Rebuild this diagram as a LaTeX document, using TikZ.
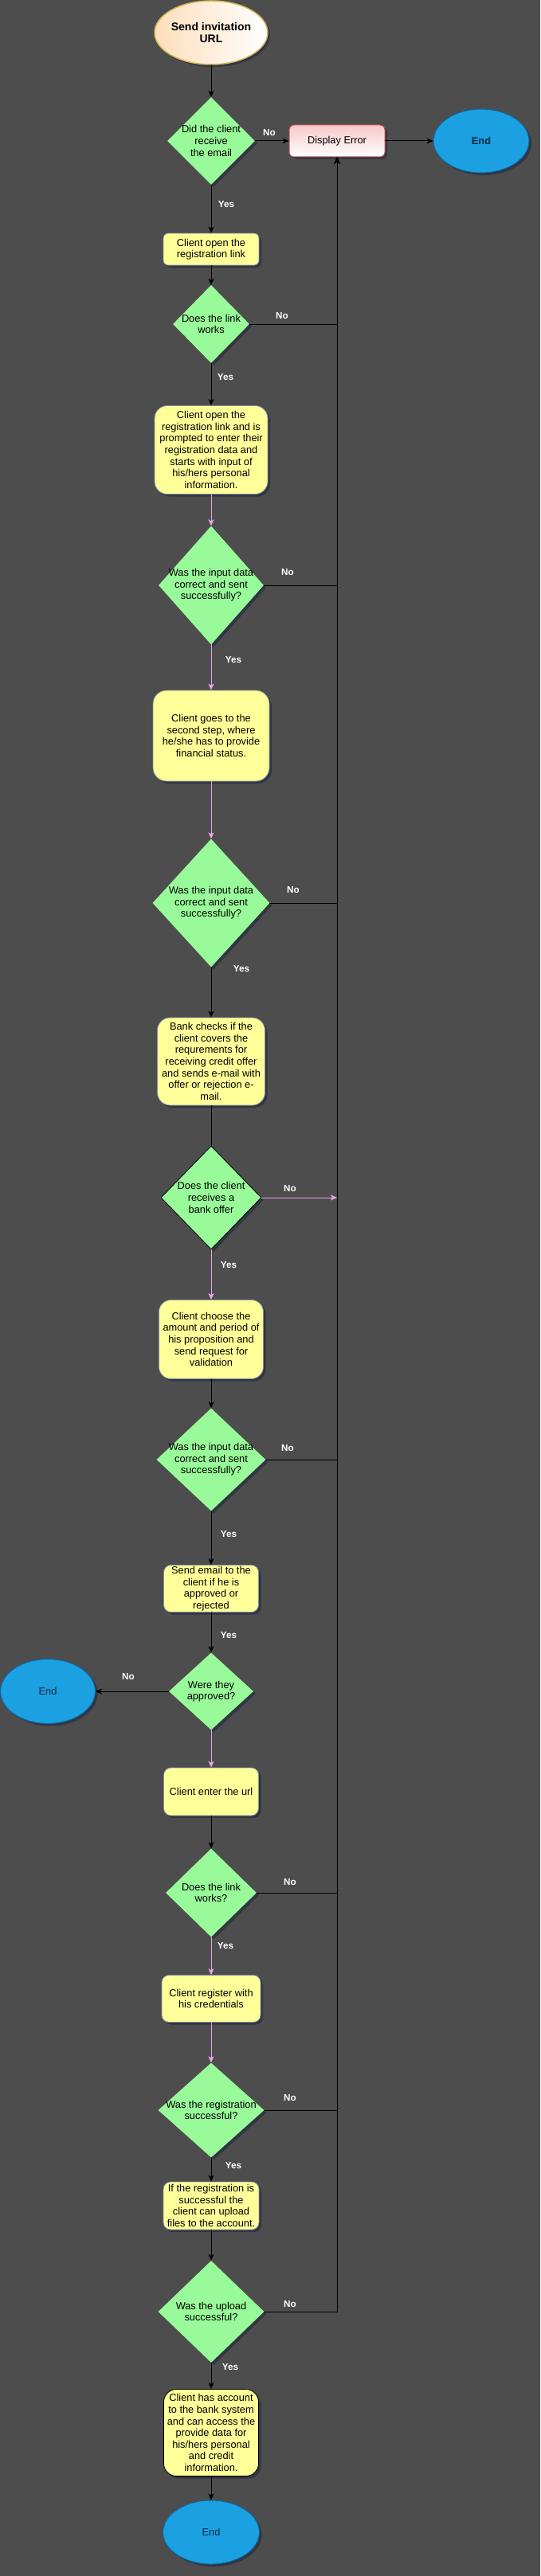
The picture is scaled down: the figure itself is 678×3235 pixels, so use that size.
\documentclass[tikz,border=0pt]{standalone}
\usepackage{fontspec}
\setmainfont{Liberation Sans}
\usepackage{tikz}
\usepackage{xcolor}
\usetikzlibrary{arrows}
\usetikzlibrary{arrows.meta,shapes.geometric,shadows}
\definecolor{bgcol}{RGB}{77,77,77}
\definecolor{dgreen}{RGB}{153,250,153}
\definecolor{byellow}{RGB}{255,255,153}
\definecolor{bedge}{RGB}{130,146,160}
\definecolor{shadowcol}{RGB}{28,36,60}
\definecolor{startorange}{RGB}{253,222,186}
\definecolor{startedge}{RGB}{214,182,86}
\definecolor{errpink}{RGB}{248,200,200}
\definecolor{erredge}{RGB}{184,84,80}
\definecolor{endblue}{RGB}{27,161,226}
\definecolor{endedge}{RGB}{16,100,160}
\definecolor{endtext}{RGB}{14,36,64}
\definecolor{pinkline}{RGB}{232,168,232}

\begin{document}
\begin{tikzpicture}[line cap=round,line join=round,>={Stealth[length=8pt,width=7pt,inset=2pt]},x=1pt,y=-1pt,
    txt/.style={font=\fontsize{12.8}{14.6}\selectfont,align=center,text=black},
    dshadow/.style={drop shadow={shadow xshift=3pt,shadow yshift=-3pt,opacity=0.55,fill=shadowcol}},
    stepbox/.style={txt,rectangle,fill=byellow,draw=bedge,line width=0.8pt,inner sep=0pt,dshadow},
    decision/.style={diamond,fill=dgreen,inner sep=0pt,dshadow},
    endnode/.style={ellipse,fill=endblue,draw=endedge,line width=1pt,inner sep=0pt,
        minimum width=120pt,minimum height=80pt,text=endtext,font=\fontsize{12.8}{14.6}\selectfont,dshadow},
    lbl/.style={font=\fontsize{11.7}{13}\selectfont\bfseries,text=white},
    link/.style={color=black,line width=1pt},
    plink/.style={color=pinkline,line width=1pt}]
    \path[use as bounding box,fill=bgcol] (0,0) rectangle (678,3235);

    % start, error and end
    \node[ellipse,left color=startorange,right color=white,draw=startedge,line width=1.5pt,inner sep=0pt,
        minimum width=120pt,minimum height=80pt,align=center,font=\fontsize{14}{15}\selectfont\bfseries,dshadow]
        (start) at (265,41) {Send invitation\\URL};
    \node[rectangle,rounded corners=6pt,top color=errpink,bottom color=white,draw=erredge,line width=1pt,
        minimum width=120pt,minimum height=40pt,txt,dshadow] (err) at (423,177) {Display Error};
    \node[endnode,font=\fontsize{12.8}{14.6}\selectfont\bfseries] (end1) at (604,177) {End};
    \node[endnode,minimum width=119pt,minimum height=81pt] (end2) at (60,2124) {End};
    \node[endnode,minimum width=121pt] (end3) at (265,3180) {End};

    % decisions
    \node[decision,minimum width=110pt,minimum height=110pt,label={[txt]center:Did the client\\receive\\the email}] (q1) at (265,177) {};
    \node[decision,minimum width=96pt,minimum height=98pt,label={[txt]center:Does the link\\works}] (q2) at (265,407) {};
    \node[decision,minimum width=132pt,minimum height=149pt,label={[txt]center:Was the input data\\correct and sent\\successfully?}] (q3) at (265,735) {};
    \node[decision,minimum width=147pt,minimum height=161pt,label={[txt]center:Was the input data\\correct and sent\\successfully?}] (q4) at (265,1134) {};
    \node[decision,draw=black,line width=0.8pt,minimum width=126pt,minimum height=130pt,label={[txt]center:Does the client\\receives a\\bank offer}] (q5) at (265,1504) {};
    \node[decision,minimum width=137pt,minimum height=129pt,label={[txt]center:Was the input data\\correct and sent\\successfully?}] (q6) at (265,1833) {};
    \node[decision,minimum width=106pt,minimum height=97pt,label={[txt]center:Were they\\approved?}] (q7) at (265,2124) {};
    \node[decision,minimum width=114pt,minimum height=111pt,label={[txt]center:Does the link\\works?}] (q8) at (265,2377) {};
    \node[decision,minimum width=133pt,minimum height=119pt,label={[txt]center:Was the registration\\successful?}] (q9) at (265,2650) {};
    \node[decision,minimum width=133pt,minimum height=128pt,label={[txt]center:Was the upload\\successful?}] (q10) at (265,2903) {};

    % steps
    \node[stepbox,rounded corners=6pt,minimum width=120pt,minimum height=40pt] (s1) at (265,313) {Client open the\\registration link};
    \node[stepbox,rounded corners=16pt,minimum width=142pt,minimum height=111pt] (s2) at (265,565) {Client open the\\registration link and is\\prompted to enter their\\registration data and\\starts with input of\\his/hers personal\\information.};
    \node[stepbox,rounded corners=17pt,minimum width=146pt,minimum height=114pt] (s3) at (265,924) {Client goes to the\\second step, where\\he/she has to provide\\financial status.};
    \node[stepbox,rounded corners=16pt,minimum width=135pt,minimum height=110pt] (s4) at (265,1333) {Bank checks if the\\client covers the\\requrements for\\receiving credit offer\\and sends e-mail with\\offer or rejection e-\\mail.};
    \node[stepbox,rounded corners=15pt,minimum width=131pt,minimum height=99pt] (s5) at (265,1682) {Client choose the\\amount and period of\\his proposition and\\send request for\\validation};
    \node[stepbox,rounded corners=9pt,minimum width=119pt,minimum height=59pt] (s6) at (265,1995) {Send email to the\\client if he is\\approved or\\rejected};
    \node[stepbox,rounded corners=9pt,minimum width=119pt,minimum height=60pt] (s7) at (265,2250) {Client enter the url};
    \node[stepbox,rounded corners=9pt,minimum width=124pt,minimum height=59pt] (s8) at (265,2510) {Client register with\\his credentials};
    \node[stepbox,rounded corners=9pt,minimum width=120pt,minimum height=60pt] (s9) at (265,2770) {If the registration is\\successful the\\client can upload\\files to the account.};
    \node[stepbox,draw=black,rounded corners=16pt,minimum width=119pt,minimum height=109pt] (s10) at (265,3055) {Client has account\\to the bank system\\and can access the\\provide data for\\his/hers personal\\and credit\\information.};

    % connectors
    \draw[link,->] (start) -- (q1);
    \draw[link,->] (q1) -- (err);
    \draw[link,->] (err) -- (end1);
    \draw[link,->] (q1) -- (s1);
    \draw[link,->] (s1) -- (q2);
    \draw[link,->] (q2.east) -| (err.south);
    \draw[link,->] (q2) -- (s2);
    \draw[plink,->] (s2) -- (q3);
    \draw[link,->] (q3.east) -| (err.south);
    \draw[plink,->] (q3) -- (s3);
    \draw[plink,->] (s3) -- (q4);
    \draw[link,->] (q4.east) -| (err.south);
    \draw[link,->] (q4) -- (s4);
    \draw[link] (s4) -- (q5);
    \coordinate (busjoin) at (q5.east -| err.south);
    \draw[plink,->] (q5.east) -- (busjoin);
    \draw[plink,->] (q5) -- (s5);
    \draw[link,->] (s5) -- (q6);
    \draw[link,->] (q6.east) -| (err.south);
    \draw[link,->] (q6) -- (s6);
    \draw[link,->] (s6) -- (q7);
    \draw[link,->] (q7) -- (end2);
    \draw[plink,->] (q7) -- (s7);
    \draw[link,->] (s7) -- (q8);
    \draw[link,->] (q8.east) -| (err.south);
    \draw[plink,->] (q8) -- (s8);
    \draw[plink,->] (s8) -- (q9);
    \draw[link,->] (q9.east) -| (err.south);
    \draw[link,->] (q9) -- (s9);
    \draw[link,->] (s9) -- (q10);
    \draw[link,->] (q10.east) -| (err.south);
    \draw[link,->] (q10) -- (s10);
    \draw[link,->] (s10) -- (end3);

    % yes / no labels
    \node[lbl] (no1) at (338,167) {No};
    \node[lbl] (yes1) at (284,257) {Yes};
    \node[lbl] (no2) at (354,397) {No};
    \node[lbl] (yes2) at (283,474) {Yes};
    \node[lbl] (no3) at (361,719) {No};
    \node[lbl] (yes3) at (293,829) {Yes};
    \node[lbl] (no4) at (368,1118) {No};
    \node[lbl] (yes4) at (303,1217) {Yes};
    \node[lbl] (no5) at (364,1493) {No};
    \node[lbl] (yes5) at (287,1589) {Yes};
    \node[lbl] (no6) at (361,1819) {No};
    \node[lbl] (yes6) at (287,1927) {Yes};
    \node[lbl] (yes7) at (287,2054) {Yes};
    \node[lbl] (no7) at (161,2106) {No};
    \node[lbl] (no8) at (364,2364) {No};
    \node[lbl] (yes8) at (283,2444) {Yes};
    \node[lbl] (no9) at (364,2634) {No};
    \node[lbl] (yes9) at (293,2719) {Yes};
    \node[lbl] (no10) at (364,2893) {No};
    \node[lbl] (yes10) at (289,2972) {Yes};
\end{tikzpicture}
\end{document}
